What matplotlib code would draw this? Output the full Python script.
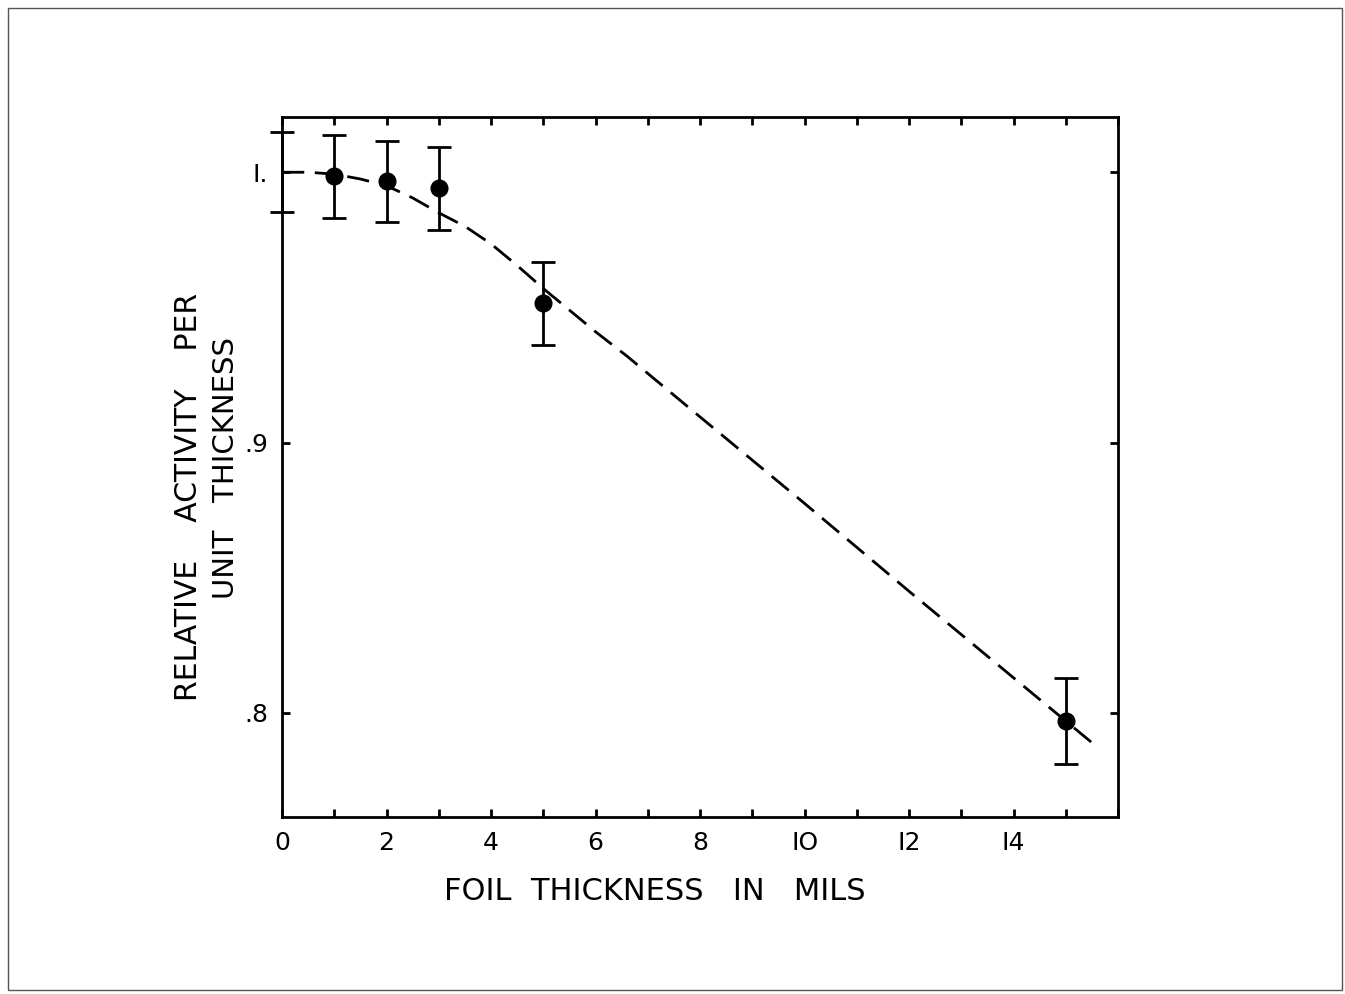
import matplotlib.pyplot as plt
from matplotlib.patches import Rectangle

# measured points (foil thickness in mils, relative activity, error)
thickness = [0, 1, 2, 3, 5, 15]
activity = [1.0, 0.9985, 0.9966, 0.994, 0.9515, 0.797]
errors = [0.0148, 0.0154, 0.015, 0.0152, 0.0153, 0.016]
show_marker = [False, True, True, True, True, True]

# dashed curve
curve_x = [0, 0.5, 1, 1.5, 2, 2.5, 3, 3.5, 4, 4.5, 5, 5.5, 6, 6.6, 8, 10, 12, 14, 15, 15.5]
curve_y = [1.0, 1.0, 0.9993, 0.9975, 0.995, 0.9905, 0.985, 0.980, 0.9735, 0.9655,
           0.957, 0.949, 0.941, 0.932, 0.9095, 0.8775, 0.845, 0.813, 0.797, 0.789]

xticks = [0, 2, 4, 6, 8, 10, 12, 14]
xticklabels = ["0", "2", "4", "6", "8", "IO", "I2", "I4"]
yticks = [0.8, 0.9, 1.0]
yticklabels = [".8", ".9", "I."]

plt.rcParams['font.family'] = ['DejaVu Sans']

fig = plt.figure(figsize=(13.45, 9.94), dpi=100)
ax = fig.add_axes([0.2097, 0.178, 0.6216, 0.7042])

ax.plot(curve_x, curve_y, color='black', lw=2, ls=(0, (8, 3.8)))

for x, y, e, m in zip(thickness, activity, errors, show_marker):
    ax.errorbar([x], [y], yerr=[e], fmt='o' if m else 'none', color='black',
                markersize=12, elinewidth=2, capsize=8.5, capthick=2,
                clip_on=False, zorder=3)

ax.set_xlim(0, 16)
ax.set_ylim(0.7615, 1.0204)

ax.set_xticks(range(0, 17), minor=True)
ax.set_xticks(xticks)
ax.set_xticklabels(xticklabels)
ax.set_yticks(yticks)
ax.set_yticklabels(yticklabels)

ax.tick_params(which='both', direction='in', top=True, right=True,
               length=6, width=2, labelsize=18, pad=10)
for s in ax.spines.values():
    s.set_linewidth(2)

ax.set_xlabel("FOIL  THICKNESS   IN   MILS", fontsize=22)
ax.xaxis.set_label_coords(0.446, -0.085)

# two-line y label, lines placed separately as in the original
fig.text(189 / 1345, 1 - 497 / 994, "RELATIVE    ACTIVITY    PER", rotation=90,
         ha='center', va='center', fontsize=21.5)
fig.text(226 / 1345, 1 - 468 / 994, "UNIT   THICKNESS", rotation=90,
         ha='center', va='center', fontsize=21)

# page border of the scan
fig.patches.append(Rectangle((0.006, 0.004), 0.992, 0.988, transform=fig.transFigure,
                             fill=False, edgecolor='#555555', lw=1))

fig.savefig("out.png", dpi=100)
